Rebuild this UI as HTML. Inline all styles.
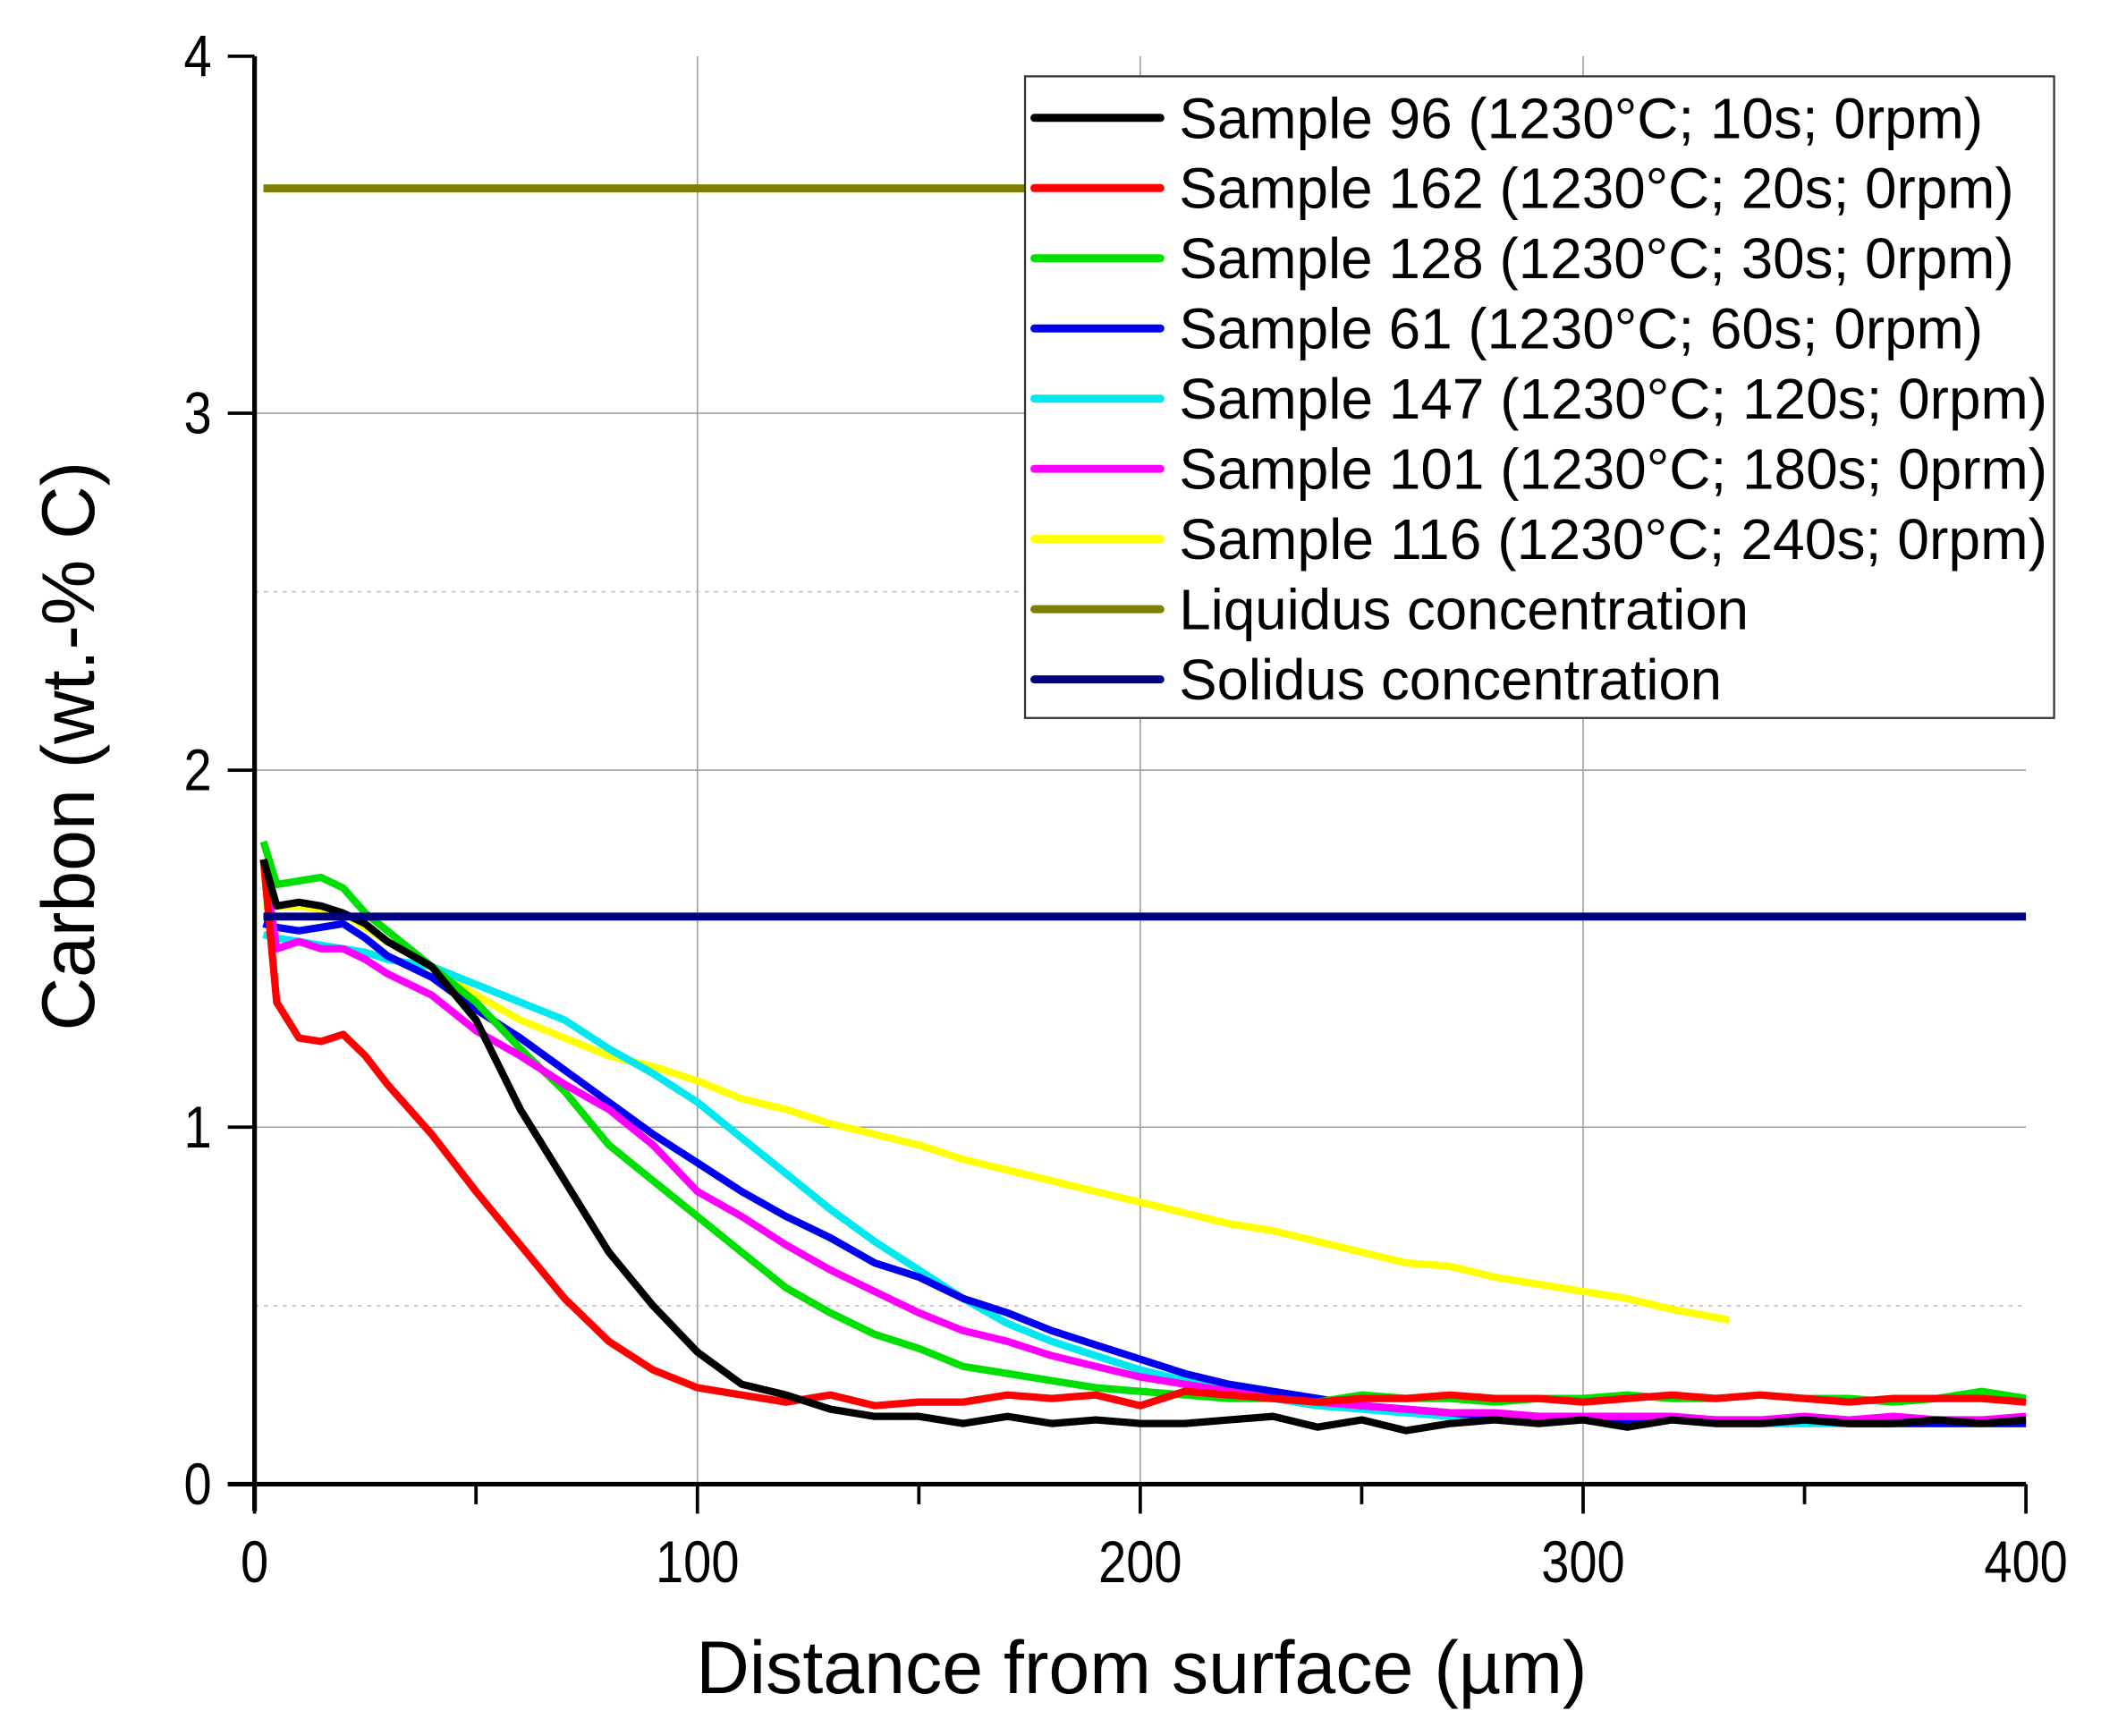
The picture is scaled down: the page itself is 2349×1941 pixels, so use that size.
<!DOCTYPE html>
<html><head><meta charset="utf-8"><style>
html,body{margin:0;padding:0;background:#fff;}
svg{display:block;}
text{font-family:"Liberation Sans",Arial,sans-serif;fill:#000;}
</style></head><body>
<svg id="chart" width="2349" height="1941" viewBox="0 0 1568 1296" preserveAspectRatio="none" xmlns="http://www.w3.org/2000/svg">
<g id="grid"></g>
<g id="series"></g>
<g id="axes"></g>
<g id="legend"></g>
<text x="852" y="1264" font-size="56" text-anchor="middle" textLength="665" lengthAdjust="spacingAndGlyphs">Distance from surface (µm)</text>
<text x="0" y="0" font-size="56" text-anchor="middle" textLength="425" lengthAdjust="spacingAndGlyphs" transform="translate(70,557) rotate(-90)">Carbon (wt.-% C)</text>
</svg>
<script>
const xTicks=[0,100,200,300,400];
const yTicks=[0,1,2,3,4];
const xs=[2,5,10,15,20,25,30,40,50,60,70,80,90,100,110,120,130,140,150,160,170,180,190,200,210,220,230,240,250,260,270,280,290,300,310,320,330,340,350,360,370,380,390,400];
const s96=[1.75,1.62,1.63,1.62,1.6,1.57,1.52,1.45,1.3,1.05,0.85,0.65,0.5,0.37,0.28,0.25,0.21,0.19,0.19,0.17,0.19,0.17,0.18,0.17,0.17,0.18,0.19,0.16,0.18,0.15,0.17,0.18,0.17,0.18,0.16,0.18,0.17,0.17,0.18,0.17,0.17,0.18,0.17,0.18];
const s162=[1.75,1.35,1.25,1.24,1.26,1.2,1.12,0.98,0.82,0.67,0.52,0.4,0.32,0.27,0.25,0.23,0.25,0.22,0.23,0.23,0.25,0.24,0.25,0.22,0.26,0.25,0.24,0.23,0.24,0.24,0.25,0.24,0.24,0.23,0.24,0.25,0.24,0.25,0.24,0.23,0.24,0.24,0.24,0.23];
const s128=[1.8,1.68,1.69,1.7,1.67,1.6,1.55,1.45,1.35,1.22,1.1,0.95,0.85,0.75,0.65,0.55,0.48,0.42,0.38,0.33,0.31,0.29,0.27,0.26,0.25,0.24,0.24,0.23,0.25,0.24,0.24,0.23,0.24,0.24,0.25,0.24,0.24,0.25,0.24,0.24,0.23,0.24,0.26,0.24];
const s61=[1.57,1.56,1.55,1.56,1.57,1.53,1.48,1.42,1.33,1.25,1.16,1.07,0.98,0.9,0.82,0.75,0.69,0.62,0.58,0.52,0.48,0.43,0.39,0.35,0.31,0.28,0.26,0.24,0.22,0.21,0.2,0.19,0.19,0.18,0.18,0.18,0.18,0.17,0.18,0.17,0.17,0.17,0.17,0.17];
const s147=[1.54,1.53,1.52,1.51,1.5,1.49,1.47,1.45,1.4,1.35,1.3,1.22,1.15,1.07,0.97,0.87,0.77,0.68,0.6,0.52,0.45,0.4,0.36,0.32,0.29,0.26,0.24,0.22,0.21,0.2,0.19,0.19,0.18,0.18,0.18,0.18,0.17,0.17,0.17,0.17,0.17,0.17,0.17,0.17];
const s101=[1.75,1.5,1.52,1.5,1.5,1.47,1.43,1.37,1.27,1.2,1.12,1.05,0.95,0.82,0.75,0.67,0.6,0.54,0.48,0.43,0.4,0.36,0.33,0.3,0.28,0.26,0.24,0.23,0.22,0.21,0.2,0.2,0.19,0.19,0.19,0.19,0.18,0.18,0.19,0.18,0.19,0.18,0.18,0.19];
const xs116=[2,10,20,30,40,50,60,70,80,90,100,110,120,130,140,150,160,170,180,190,200,210,220,230,240,250,260,270,280,290,300,310,320,333];
const s116=[1.62,1.62,1.6,1.52,1.45,1.37,1.3,1.25,1.2,1.17,1.13,1.08,1.05,1.01,0.98,0.95,0.91,0.88,0.85,0.82,0.79,0.76,0.73,0.71,0.68,0.65,0.62,0.61,0.58,0.56,0.54,0.52,0.49,0.46];
const liquidus=3.63, solidus=1.59;
const names=["Sample 96 (1230°C; 10s; 0rpm)","Sample 162 (1230°C; 20s; 0rpm)","Sample 128 (1230°C; 30s; 0rpm)","Sample 61 (1230°C; 60s; 0rpm)","Sample 147 (1230°C; 120s; 0rpm)","Sample 101 (1230°C; 180s; 0prm)","Sample 116 (1230°C; 240s; 0rpm)","Liquidus concentration","Solidus concentration"];
const colors=["#000000","#ff0000","#00e000","#0000ee","#00e8f0","#ff00ff","#ffff00","#808000","#000080"];
const legendWidths=[600,623,623,600,648,648,648,425,405];

const NS="http://www.w3.org/2000/svg";
const X=v=>190+(v/400)*1322;
const Y=v=>1108-(v/4)*1066;
function mk(tag,parent,attrs){const e=document.createElementNS(NS,tag);for(const k in attrs)e.setAttribute(k,attrs[k]);parent.appendChild(e);return e;}
const grid=document.getElementById('grid'),axes=document.getElementById('axes'),ser=document.getElementById('series'),leg=document.getElementById('legend');

xTicks.slice(1,-1).forEach(t=>{const l=mk('line',grid,{x1:X(t),x2:X(t),y1:Y(4),y2:Y(0),stroke:'#999','stroke-width':1});

});
yTicks.slice(1,-1).forEach(t=>{const l=mk('line',grid,{x1:X(0),x2:X(400),y1:Y(t),y2:Y(t),stroke:'#999','stroke-width':1});

});
[0.5,2.5].forEach(t=>{const l=mk('line',grid,{x1:X(0),x2:X(400),y1:Y(t),y2:Y(t),stroke:'#bbb','stroke-width':1,'stroke-dasharray':'3,4'});

});

const liq=mk('line',ser,{x1:X(2),x2:X(400),y1:Y(liquidus),y2:Y(liquidus),stroke:colors[7],'stroke-width':6});


const pts=(xa,ya)=>xa.map((x,i)=>X(x).toFixed(1)+','+Y(ya[i]).toFixed(1)).join(' ');
const data=[[xs,s96],[xs,s162],[xs,s128],[xs,s61],[xs,s147],[xs,s101],[xs116,s116]];
const order=[6,4,3,2,5,1,0];
const snames=['sample-96-line','sample-162-line','sample-128-line','sample-61-line','sample-147-line','sample-101-line','sample-116-line'];
order.forEach(i=>{const p=mk('polyline',ser,{points:pts(data[i][0],data[i][1]),fill:'none',stroke:colors[i],'stroke-width':5.5,'stroke-linejoin':'round'});

});
const sol=mk('line',ser,{x1:X(2),x2:X(400),y1:Y(solidus),y2:Y(solidus),stroke:colors[8],'stroke-width':6});



const ax=mk('line',axes,{x1:X(0)-20,x2:X(400),y1:Y(0),y2:Y(0),stroke:'#000','stroke-width':3.5});


const ay=mk('line',axes,{x1:X(0),x2:X(0),y1:Y(0)+20,y2:Y(4),stroke:'#000','stroke-width':3.5});


xTicks.forEach(t=>{const l=mk('line',axes,{x1:X(t),x2:X(t),y1:Y(0),y2:Y(0)+22,stroke:'#000','stroke-width':2.5});


const tx=mk('text',axes,{x:X(t),y:1181,'font-size':44,'text-anchor':'middle',transform:`translate(${X(t)},0) scale(0.85,1) translate(${-X(t)},0)`});tx.textContent=t;

});
[50,150,250,350].forEach(t=>{const l=mk('line',axes,{x1:X(t),x2:X(t),y1:Y(0),y2:Y(0)+15,stroke:'#000','stroke-width':2.5});

});
yTicks.forEach(t=>{const l=mk('line',axes,{x1:X(0)-20,x2:X(0),y1:Y(t),y2:Y(t),stroke:'#000','stroke-width':2.5});


const tx=mk('text',axes,{x:158,y:Y(t)+15,'font-size':44,'text-anchor':'end',transform:`translate(158,0) scale(0.85,1) translate(-158,0)`});tx.textContent=t;

});

const box=mk('rect',leg,{x:765,y:57,width:768,height:479,fill:'#fff',stroke:'#333','stroke-width':1.5});


names.forEach((n,i)=>{const y=88+i*52.4;
const l=mk('line',leg,{x1:772,x2:866,y1:y,y2:y,stroke:colors[i],'stroke-width':6,'stroke-linecap':'round'});


const tx=mk('text',leg,{x:880,y:y+15,'font-size':43,textLength:legendWidths[i],lengthAdjust:'spacingAndGlyphs'});tx.textContent=n;

});
</script>
</body></html>
